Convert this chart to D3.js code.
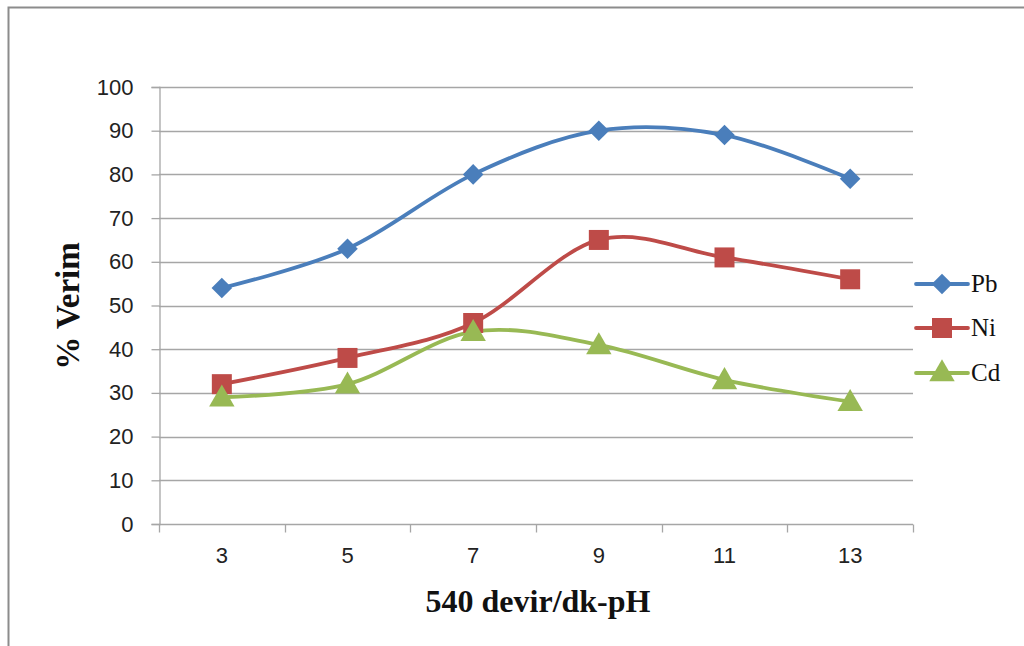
<!DOCTYPE html>
<html><head><meta charset="utf-8">
<script src="https://cdn.jsdelivr.net/npm/d3@7"></script>
<style>html,body{margin:0;padding:0;background:#fff;}</style>
</head><body>
<svg id="c" width="1024" height="646"></svg>
<script>
const categories = ["3","5","7","9","11","13"];
const pb = [54, 63, 80, 90, 89, 79];
const ni = [32, 38, 46, 65, 61, 56];
const cd = [29, 32, 44, 41, 33, 28];
const yTicks = [0,10,20,30,40,50,60,70,80,90,100];
const seriesNames = ["Pb","Ni","Cd"];
const colors = ["#4a7ebb","#be4b48","#98b954"];

const svg = d3.select("#c");
svg.append("rect").attr("x",0).attr("y",0).attr("width",1024).attr("height",646).attr("fill","#fff");
svg.append("path").attr("d","M8.5,646 V7.5 H1024").attr("fill","none").attr("stroke","#8c8c8c").attr("stroke-width",2);

const L=159, R=913, T=87, B=524;
const x = d3.scaleBand().domain(categories).range([L,R]);
const y = d3.scaleLinear().domain([0,100]).range([B,T]);

const tickFont = "'Liberation Sans', Arial, sans-serif";
const serif = "'Liberation Serif','Times New Roman',serif";

svg.append("g").selectAll("line").data(yTicks.filter(d=>d>0)).join("line")
  .attr("x1",L).attr("x2",R).attr("y1",d=>Math.round(y(d))+0.5).attr("y2",d=>Math.round(y(d))+0.5)
  .attr("stroke","#a6a6a6").attr("stroke-width",1.3);

const yAx = svg.append("g").attr("transform",`translate(${L+0.5},0)`)
  .call(d3.axisLeft(y).tickValues(yTicks).tickSize(8).tickPadding(18));
yAx.select(".domain").attr("stroke","#a6a6a6").attr("stroke-width",1.3);
yAx.selectAll(".tick line").attr("stroke","#a6a6a6").attr("stroke-width",1.3);
yAx.selectAll(".tick text").style("font-family",tickFont).style("font-size","22px").attr("fill","#222");

const xAx = svg.append("g").attr("transform",`translate(0,${B+0.5})`)
  .call(d3.axisBottom(x).tickSize(0).tickPadding(23));
xAx.select(".domain").attr("stroke","#a6a6a6").attr("stroke-width",1.3).attr("d",`M${L},0H${R}`);
xAx.selectAll(".tick text").style("font-family",tickFont).style("font-size","22px").attr("fill","#222");
const bounds = categories.map(c=>x(c)).concat([R]);
xAx.selectAll("line.bt").data(bounds).join("line").attr("class","bt")
  .attr("x1",d=>Math.round(d)+0.5).attr("x2",d=>Math.round(d)+0.5).attr("y1",0).attr("y2",8)
  .attr("stroke","#a6a6a6").attr("stroke-width",1.3);

const cx = c => x(c) + x.bandwidth()/2;
const data = [pb, ni, cd];
const line = d3.line().x((d,i)=>cx(categories[i])).y(d=>y(d)).curve(d3.curveCardinal.tension(0));

data.forEach((vals,si)=>{
  svg.append("path").datum(vals).attr("d",line).attr("fill","none")
    .attr("stroke",colors[si]).attr("stroke-width",3.8).attr("stroke-linejoin","round").attr("stroke-linecap","round");
});

const diamond = d3.symbol().type(d3.symbolDiamond2).size(270);
const square = d3.symbol().type(d3.symbolSquare).size(400);
const tri = d3.symbol().type(d3.symbolTriangle).size(280);
const shapes = [diamond, square, tri];

data.forEach((vals,si)=>{
  svg.append("g").selectAll("path").data(vals).join("path")
    .attr("transform",(d,i)=>`translate(${cx(categories[i])},${y(d)+(si===2?2:0)})`)
    .attr("d",shapes[si]()).attr("fill",colors[si]);
});

const legY = [284, 328, 373];
seriesNames.forEach((n,i)=>{
  const lg = svg.append("g");
  lg.append("line").attr("x1",916).attr("x2",968).attr("y1",legY[i]).attr("y2",legY[i])
    .attr("stroke",colors[i]).attr("stroke-width",3.8).attr("stroke-linecap","round");
  lg.append("path").attr("transform",`translate(942,${legY[i]+(i===2?1:0)})`).attr("d",shapes[i]()).attr("fill",colors[i]);
  lg.append("text").attr("x",971).attr("y",legY[i]+8).text(n)
    .style("font-family",serif).style("font-size","25px").attr("fill","#111");
});

svg.append("text").attr("x",538).attr("y",612).attr("text-anchor","middle")
  .style("font-family",serif).style("font-weight","bold").style("font-size","32px")
  .attr("fill","#111").text("540 devir/dk-pH");
svg.append("text").attr("transform","translate(79,306) rotate(-90)").attr("text-anchor","middle")
  .style("font-family",serif).style("font-weight","bold").style("font-size","33px")
  .attr("fill","#111").text("% Verim");
</script>
</body></html>
